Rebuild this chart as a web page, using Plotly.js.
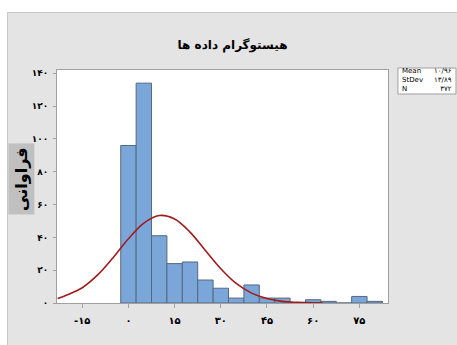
<!DOCTYPE html>
<html>
<head>
<meta charset="utf-8">
<script src="https://cdn.plot.ly/plotly-3.0.1.min.js"></script>
<style>
html,body{margin:0;padding:0;background:#ffffff;width:457px;height:345px;overflow:hidden;}
#chart{position:absolute;left:7px;top:12px;width:449px;height:332px;border-top:1px solid #c8c8c8;border-left:1px solid #c8c8c8;}
</style>
</head>
<body>
<div id="chart"></div>
<script>
// Histogram bins (centers) and counts
var binCenters = [0, 5, 10, 15, 20, 25, 30, 35, 40, 45, 50, 55, 60, 65, 70, 75, 80];
var binCounts  = [96, 134, 41, 24, 25, 14, 9, 3, 11, 3, 3, 0, 2, 1, 0, 4, 1];

// Fitted normal curve
var curveX = [-23, -20, -15, -10, -5, 0, 5, 10, 15, 20, 25, 30, 35, 40, 45, 50, 55, 60, 63];
var curveY = [2.7, 4.9, 9.3, 17.1, 27.6, 39.1, 48.7, 53.3, 51.2, 43.2, 32.0, 20.9, 11.9, 6.0, 2.7, 1.0, 0.4, 0.1, 0.05];

var xTickVals = [-15, 0, 15, 30, 45, 60, 75];
var xTickText = ['-۱۵', '۰', '۱۵', '۳۰', '۴۵', '۶۰', '۷۵'];
var yTickVals = [0, 20, 40, 60, 80, 100, 120, 140];
var yTickText = ['۰', '۲۰', '۴۰', '۶۰', '۸۰', '۱۰۰', '۱۲۰', '۱۴۰'];

var titleText = 'هیستوگرام داده ها';
var yTitleText = 'فراوانی';
var statLabels = ['Mean', 'StDev', 'N'];
var statValues = ['۱۰/۹۶', '۱۳/۸۹', '۳۷۲'];

var FONT = 'DejaVu Sans, sans-serif';

var traces = [
  {
    type: 'bar',
    x: binCenters,
    y: binCounts,
    width: 5,
    marker: {color: '#7ba6d9', line: {color: '#56687f', width: 1}},
    hoverinfo: 'x+y'
  },
  {
    type: 'scatter',
    mode: 'lines',
    x: curveX,
    y: curveY,
    line: {color: '#a01c1c', width: 1.6, shape: 'spline'},
    hoverinfo: 'skip'
  }
];

var annotations = [
  {
    xref: 'paper', yref: 'paper', x: -0.109, y: 0.532,
    text: '<b>' + yTitleText + '</b>', textangle: -90, showarrow: false,
    font: {family: FONT, size: 16, color: '#000000'},
    bgcolor: '#c0c0c0', borderpad: 3, xanchor: 'center', yanchor: 'middle'
  },
  {
    xref: 'paper', yref: 'paper', x: 1.040, y: 0.955,
    text: statLabels.join('<br>'), showarrow: false, align: 'left',
    xanchor: 'left', yanchor: 'middle', borderpad: 0,
    font: {family: FONT, size: 7, color: '#000000'}
  },
  {
    xref: 'paper', yref: 'paper', x: 1.196, y: 0.955,
    text: statValues.join('<br>'), showarrow: false, align: 'right',
    xanchor: 'right', yanchor: 'middle', borderpad: 0,
    font: {family: FONT, size: 7, color: '#000000'}
  }
];

var layout = {
  width: 449,
  height: 332,
  margin: {l: 49, r: 69, t: 57, b: 42, pad: 0},
  paper_bgcolor: '#e4e4e4',
  plot_bgcolor: '#ffffff',
  showlegend: false,
  bargap: 0,
  title: {
    text: '<b>' + titleText + '</b>',
    xref: 'container', x: 0.5, xanchor: 'center',
    yref: 'container', y: 0.904, yanchor: 'middle',
    font: {family: FONT, size: 12, color: '#000000'}
  },
  xaxis: {
    range: [-23.2, 84.3],
    tickvals: xTickVals, ticktext: xTickText,
    ticks: 'outside', ticklen: 4, tickcolor: '#a0a0a0', tickwidth: 1,
    showgrid: false, zeroline: false,
    showline: true, linecolor: '#a0a0a0', linewidth: 1, mirror: true,
    tickfont: {family: FONT, size: 10, color: '#000000', weight: 'bold'},
    ticklabelstandoff: 4
  },
  yaxis: {
    range: [0, 142],
    tickvals: yTickVals, ticktext: yTickText,
    ticks: 'outside', ticklen: 3, tickcolor: '#a0a0a0', tickwidth: 1,
    showgrid: false, zeroline: false,
    showline: true, linecolor: '#a0a0a0', linewidth: 1, mirror: true,
    tickfont: {family: FONT, size: 9, color: '#000000', weight: 'bold'},
    ticklabelstandoff: 3
  },
  shapes: [
    {
      type: 'rect', xref: 'paper', yref: 'paper',
      x0: 1.030, x1: 1.2054, y0: 0.8970, y1: 1.0086,
      fillcolor: '#ffffff', line: {color: '#a0a0a0', width: 1}
    }
  ],
  annotations: annotations
};

Plotly.newPlot('chart', traces, layout, {displayModeBar: false, staticPlot: true});
</script>
</body>
</html>
